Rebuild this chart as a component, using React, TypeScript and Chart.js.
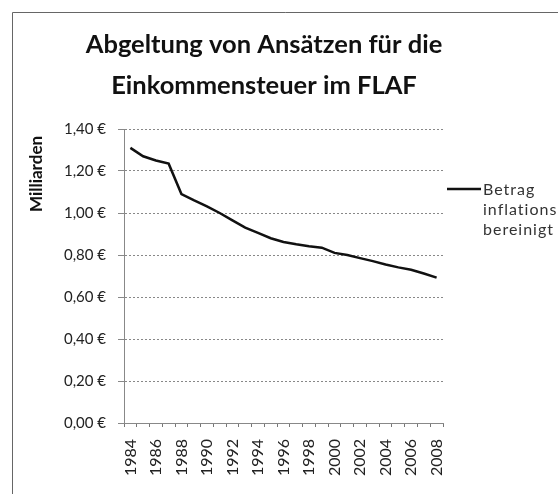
import React, { useEffect, useRef } from "react";
import { Chart, registerables } from "chart.js";

Chart.register(...registerables);

const years = [
  "1984", "1985", "1986", "1987", "1988", "1989", "1990", "1991", "1992",
  "1993", "1994", "1995", "1996", "1997", "1998", "1999", "2000", "2001",
  "2002", "2003", "2004", "2005", "2006", "2007", "2008",
];
const betragInflationsbereinigt = [
  1.31, 1.27, 1.25, 1.235, 1.09, 1.06, 1.032, 1.0, 0.965,
  0.93, 0.905, 0.88, 0.862, 0.851, 0.842, 0.835, 0.81, 0.8,
  0.785, 0.771, 0.755, 0.741, 0.73, 0.712, 0.692,
];
const titleLines = ["Abgeltung von Ansätzen für die", "Einkommensteuer im FLAF"];
const yAxisTitle = "Milliarden";
const seriesLabel = "Betrag inflationsbereinigt";
const legendLines = ["Betrag", "inflations", "bereinigt"];
const yMin = 0;
const yMax = 1.4;
const yStep = 0.2;

const FONT = "Lato, 'Open Sans', sans-serif";

const decorPlugin = {
  id: "decor",
  afterDraw(chart: any) {
    const ctx = chart.ctx as CanvasRenderingContext2D;
    ctx.save();
    // frame
    ctx.strokeStyle = "#666";
    ctx.lineWidth = 1;
    ctx.beginPath();
    ctx.moveTo(12.5, chart.height);
    ctx.lineTo(12.5, 12.5);
    ctx.lineTo(chart.width, 12.5);
    ctx.stroke();

    // title
    ctx.fillStyle = "#111";
    ctx.font = `bold 25.5px ${FONT}`;
    ctx.textAlign = "center";
    ctx.textBaseline = "alphabetic";
    titleLines.forEach((t, i) => ctx.fillText(t, 264, 53 + i * 41));

    // y axis title
    ctx.save();
    ctx.translate(42, 174);
    ctx.rotate(-Math.PI / 2);
    ctx.font = `bold 17px ${FONT}`;
    ctx.textAlign = "center";
    ctx.textBaseline = "alphabetic";
    ctx.fillText(yAxisTitle, 0, 0);
    ctx.restore();

    // legend
    const ds = chart.data.datasets[0];
    ctx.strokeStyle = ds.borderColor;
    ctx.lineWidth = ds.borderWidth;
    ctx.beginPath();
    ctx.moveTo(447, 189);
    ctx.lineTo(481, 189);
    ctx.stroke();
    ctx.fillStyle = "#333";
    ctx.font = `16px ${FONT}`;
    try {
      (ctx as any).letterSpacing = "1px";
    } catch (e) {}
    ctx.textAlign = "left";
    ctx.textBaseline = "middle";
    legendLines.forEach((t, i) => ctx.fillText(t, 483, 190 + i * 20));
    ctx.restore();
  },
};

export default function App() {
  const ref = useRef<HTMLCanvasElement | null>(null);
  useEffect(() => {
    if (!ref.current) return;
    const chart = new Chart(ref.current, {
      type: "line",
      data: {
        labels: years,
        datasets: [
          {
            label: seriesLabel,
            data: betragInflationsbereinigt,
            borderColor: "#111",
            borderWidth: 2.5,
            pointRadius: 0,
            tension: 0,
            fill: false,
          },
        ],
      },
      options: {
        responsive: false,
        animation: false,
        devicePixelRatio: 1,
        layout: { padding: { top: 129, right: 115, bottom: 0, left: 0 } },
        plugins: {
          legend: { display: false },
          title: { display: false },
          tooltip: { enabled: false },
        },
        scales: {
          x: {
            type: "category",
            offset: true,
            grid: {
              offset: true,
              drawOnChartArea: false,
              tickLength: 4,
              color: "#777",
              tickColor: "#777",
            },
            border: { display: true, color: "#888", dash: [2, 2] },
            ticks: {
              autoSkip: false,
              maxRotation: 90,
              minRotation: 90,
              padding: 12,
              color: "#222",
              font: { family: FONT, size: 16 },
              callback: (_v: any, i: number) => (i % 2 === 0 ? years[i] : ""),
            },
            afterFit: (scale: any) => {
              scale.height = 71;
            },
          },
          y: {
            min: yMin,
            max: yMax,
            grid: {
              color: "#888",
              tickLength: 6,
              tickColor: "#888",
            },
            border: { display: true, color: "#888", dash: [2, 2] },
            ticks: {
              stepSize: yStep,
              padding: 12,
              color: "#222",
              font: { family: FONT, size: 15 },
              callback: (v: any) => Number(v).toFixed(2).replace(".", ",") + " €",
            },
            afterFit: (scale: any) => {
              scale.width = 124;
            },
          },
        },
      },
      plugins: [decorPlugin],
    });
    return () => chart.destroy();
  }, []);

  return (
    <div style={{ position: "fixed", left: 0, top: 0, width: 558, height: 494, background: "#fff" }}>
      <canvas ref={ref} width={558} height={494} style={{ display: "block" }} />
    </div>
  );
}
